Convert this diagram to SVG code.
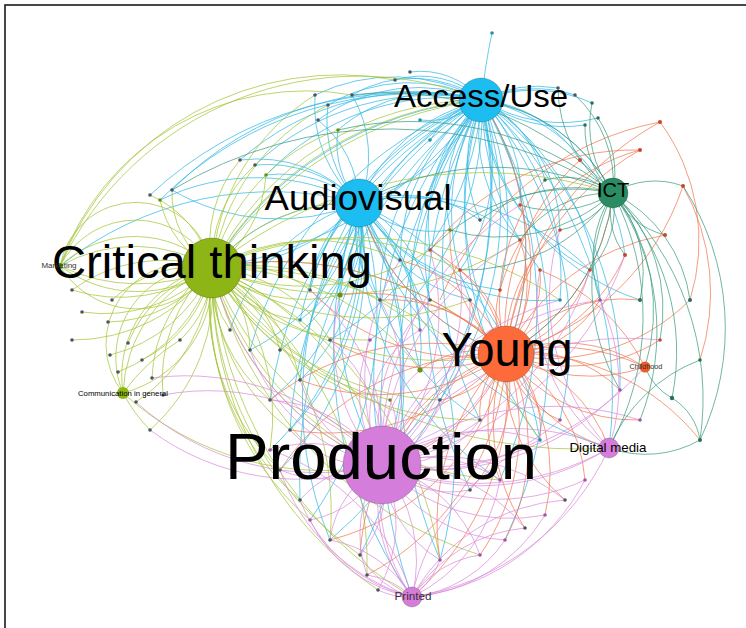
<svg xmlns="http://www.w3.org/2000/svg" width="746" height="628" viewBox="0 0 746 628">
<style>
#edges path{fill:none;stroke-width:1;stroke-opacity:0.72}
.c path{stroke:#2FB9E6}
.g path{stroke:#A3C536}
.o path{stroke:#F27650}
.p path{stroke:#D98ADA}
.t path{stroke:#3A9B7E}
.dot{stroke:none}
.dk{fill:#4a5560}.dg{fill:#6E8F12}.dr{fill:#C8462C}.dp{fill:#A056A8}.dc{fill:#1C90B8}.dt{fill:#2B6F5B}
.lbl{font-family:"Liberation Sans",Arial,sans-serif;fill:#000;text-anchor:middle}
.hub{stroke:#000;stroke-opacity:0.25;stroke-width:0.8}
</style>
<rect x="0" y="0" width="746" height="628" fill="#fff"/>
<rect x="5" y="5" width="760" height="640" fill="none" stroke="#1a1a1a" stroke-width="1.6"/>
<g id="edges">
<g class="c">
<path d="M492 33 Q484 70 482 100"/>
<path d="M482 100 A180 180 0 0 0 315 95"/>
<path d="M482 100 A160 160 0 0 0 328 105"/>
<path d="M482 100 A170 170 0 0 0 318 120"/>
<path d="M482 100 A150 150 0 0 0 338 130"/>
<path d="M482 100 A120 120 0 0 0 352 95"/>
<path d="M482 100 A90 90 0 0 0 395 80"/>
<path d="M482 100 A80 80 0 0 0 410 72"/>
<path d="M482 100 A120 120 0 0 1 558 88"/>
<path d="M482 100 A130 130 0 0 1 575 95"/>
<path d="M482 100 A140 140 0 0 1 592 103"/>
<path d="M482 100 A150 150 0 0 0 598 118"/>
<path d="M482 100 A140 140 0 0 0 585 125"/>
<path d="M482 100 A180 180 0 0 0 359 203"/>
<path d="M482 100 A200 200 0 0 1 359 203"/>
<path d="M482 100 A350 350 0 0 0 212 268"/>
<path d="M482 100 A400 400 0 0 1 212 268"/>
<path d="M482 100 A130 130 0 0 1 520 205"/>
<path d="M482 100 A140 140 0 0 0 480 220"/>
<path d="M482 100 A150 150 0 0 0 450 230"/>
<path d="M482 100 A170 170 0 0 0 430 250"/>
<path d="M482 100 A200 200 0 0 0 400 260"/>
<path d="M482 100 A190 190 0 0 1 460 270"/>
<path d="M482 100 A220 220 0 0 0 470 300"/>
<path d="M482 100 A230 230 0 0 0 430 300"/>
<path d="M482 100 A250 250 0 0 0 380 300"/>
<path d="M482 100 A260 260 0 0 0 340 295"/>
<path d="M482 100 A280 280 0 0 0 310 290"/>
<path d="M482 100 A310 310 0 0 0 300 320"/>
<path d="M482 100 A310 310 0 0 1 330 340"/>
<path d="M482 100 A290 290 0 0 1 370 340"/>
<path d="M482 100 A280 280 0 0 1 506 354"/>
<path d="M482 100 A300 300 0 0 0 506 354"/>
<path d="M482 100 A400 400 0 0 1 382 465"/>
<path d="M482 100 A420 420 0 0 0 382 465"/>
<path d="M482 100 A300 300 0 0 0 420 370"/>
<path d="M482 100 A330 330 0 0 1 440 400"/>
<path d="M482 100 A180 180 0 0 1 613 193"/>
<path d="M482 100 A400 400 0 0 1 609 448"/>
<path d="M482 100 A360 360 0 0 1 560 420"/>
<path d="M482 100 A380 380 0 0 0 540 440"/>
<path d="M482 100 A350 350 0 0 0 480 420"/>
<path d="M482 100 A260 260 0 0 1 600 300"/>
<path d="M482 100 A240 240 0 0 1 560 300"/>
<path d="M482 100 A350 350 0 0 1 620 390"/>
<path d="M482 100 A360 360 0 0 0 300 380"/>
<path d="M482 100 A400 400 0 0 0 270 400"/>
<path d="M482 100 A370 370 0 0 0 250 350"/>
<path d="M482 100 A360 360 0 0 0 160 200"/>
<path d="M482 100 A380 380 0 0 0 150 195"/>
<path d="M482 100 A330 330 0 0 0 172 190"/>
<path d="M482 100 A270 270 0 0 0 240 160"/>
<path d="M482 100 A260 260 0 0 0 255 165"/>
<path d="M482 100 A250 250 0 0 0 266 175"/>
<path d="M482 100 A80 80 0 0 1 420 120"/>
<path d="M482 100 A90 90 0 0 0 430 140"/>
<path d="M482 100 A120 120 0 0 1 545 180"/>
<path d="M482 100 A130 130 0 0 1 580 160"/>
<path d="M482 100 A480 480 0 0 0 300 500"/>
<path d="M482 100 A540 540 0 0 0 412 597"/>
<path d="M482 100 A420 420 0 0 1 500 480"/>
<path d="M482 100 A420 420 0 0 0 470 490"/>
<path d="M482 100 A420 420 0 0 0 290 430"/>
<path d="M482 100 A160 160 0 0 0 520 240"/>
<path d="M482 100 A150 150 0 0 1 560 230"/>
<path d="M482 100 A200 200 0 0 0 590 270"/>
<path d="M482 100 A180 180 0 0 1 625 255"/>
<path d="M482 100 A230 230 0 0 0 640 300"/>
<path d="M482 100 A460 460 0 0 1 330 540"/>
<path d="M482 100 A470 470 0 0 1 505 540"/>
<path d="M482 100 A480 480 0 0 0 440 560"/>
<path d="M482 100 A300 300 0 0 1 500 290"/>
<path d="M482 100 A280 280 0 0 0 540 270"/>
<path d="M359 203 A140 140 0 0 0 240 160"/>
<path d="M359 203 A130 130 0 0 0 255 165"/>
<path d="M359 203 A120 120 0 0 0 266 175"/>
<path d="M359 203 A130 130 0 0 1 315 95"/>
<path d="M359 203 A120 120 0 0 1 328 105"/>
<path d="M359 203 A110 110 0 0 0 318 120"/>
<path d="M359 203 A90 90 0 0 1 338 130"/>
<path d="M359 203 A120 120 0 0 0 352 95"/>
<path d="M359 203 A180 180 0 0 0 212 268"/>
<path d="M359 203 A200 200 0 0 1 212 268"/>
<path d="M359 203 A110 110 0 0 1 340 295"/>
<path d="M359 203 A120 120 0 0 0 310 290"/>
<path d="M359 203 A140 140 0 0 1 300 320"/>
<path d="M359 203 A110 110 0 0 0 380 300"/>
<path d="M359 203 A140 140 0 0 1 430 300"/>
<path d="M359 203 A230 230 0 0 0 506 354"/>
<path d="M359 203 A290 290 0 0 1 382 465"/>
<path d="M359 203 A300 300 0 0 0 382 465"/>
<path d="M359 203 A200 200 0 0 1 420 370"/>
<path d="M359 203 A200 200 0 0 1 300 380"/>
<path d="M359 203 A240 240 0 0 1 270 400"/>
<path d="M359 203 A200 200 0 0 1 250 350"/>
<path d="M359 203 A200 200 0 0 0 230 330"/>
<path d="M359 203 A190 190 0 0 1 280 350"/>
<path d="M359 203 A260 260 0 0 1 290 430"/>
<path d="M359 203 A350 350 0 0 1 310 520"/>
<path d="M359 203 A370 370 0 0 0 330 540"/>
<path d="M359 203 A430 430 0 0 0 412 597"/>
<path d="M359 203 A220 220 0 0 0 160 200"/>
<path d="M359 203 A210 210 0 0 1 172 190"/>
<path d="M359 203 A160 160 0 0 0 470 300"/>
<path d="M359 203 A90 90 0 0 0 400 260"/>
<path d="M359 203 A110 110 0 0 0 450 230"/>
<path d="M359 203 A130 130 0 0 1 480 220"/>
<path d="M359 203 A290 290 0 0 1 270 450"/>
<path d="M359 203 A300 300 0 0 1 280 470"/>
<path d="M359 203 A380 380 0 0 0 609 448"/>
<path d="M359 203 A340 340 0 0 0 60 266"/>
<path d="M359 203 A180 180 0 0 1 520 240"/>
<path d="M359 203 A220 220 0 0 0 560 300"/>
<path d="M359 203 A250 250 0 0 1 590 270"/>
<path d="M359 203 A320 320 0 0 1 540 440"/>
<path d="M359 203 A260 260 0 0 0 480 420"/>
<path d="M359 203 A310 310 0 0 0 500 480"/>
<path d="M359 203 A380 380 0 0 1 440 560"/>
<path d="M359 203 A370 370 0 0 1 360 555"/>
<path d="M359 203 A200 200 0 0 0 500 290"/>
<path d="M359 203 A170 170 0 0 1 420 330"/>
</g>
<g class="g">
<path d="M212 268 A77 77 0 0 0 60 266"/>
<path d="M212 268 A85 85 0 0 0 60 266"/>
<path d="M212 268 A110 110 0 0 0 60 266"/>
<path d="M212 268 A150 150 0 0 0 60 266"/>
<path d="M212 268 A90 90 0 0 1 60 266"/>
<path d="M212 268 A130 130 0 0 1 60 266"/>
<path d="M212 268 A180 180 0 0 1 60 266"/>
<path d="M212 268 A155 155 0 0 0 72 290"/>
<path d="M212 268 A160 160 0 0 1 72 290"/>
<path d="M212 268 A150 150 0 0 1 82 312"/>
<path d="M212 268 A130 130 0 0 1 108 322"/>
<path d="M212 268 A120 120 0 0 0 112 300"/>
<path d="M212 268 A170 170 0 0 1 72 340"/>
<path d="M212 268 A150 150 0 0 1 110 355"/>
<path d="M212 268 A155 155 0 0 1 118 372"/>
<path d="M212 268 A130 130 0 0 0 128 343"/>
<path d="M212 268 A130 130 0 0 1 142 360"/>
<path d="M212 268 A140 140 0 0 0 152 378"/>
<path d="M212 268 A170 170 0 0 1 136 402"/>
<path d="M212 268 A190 190 0 0 1 150 430"/>
<path d="M212 268 A150 150 0 0 0 163 395"/>
<path d="M212 268 A100 100 0 0 1 180 340"/>
<path d="M212 268 A80 80 0 0 0 123 393"/>
<path d="M212 268 A90 90 0 0 0 123 393"/>
<path d="M212 268 A110 110 0 0 0 123 393"/>
<path d="M212 268 A140 140 0 0 0 123 393"/>
<path d="M212 268 A120 120 0 0 1 123 393"/>
<path d="M212 268 A100 100 0 0 1 160 200"/>
<path d="M212 268 A110 110 0 0 0 150 195"/>
<path d="M212 268 A90 90 0 0 1 172 190"/>
<path d="M212 268 A130 130 0 0 1 240 160"/>
<path d="M212 268 A130 130 0 0 1 255 165"/>
<path d="M212 268 A120 120 0 0 0 266 175"/>
<path d="M212 268 A180 180 0 0 1 359 203"/>
<path d="M212 268 A340 340 0 0 1 482 100"/>
<path d="M212 268 A300 300 0 0 1 482 100"/>
<path d="M212 268 A380 380 0 0 1 482 100"/>
<path d="M212 268 A220 220 0 0 1 315 95"/>
<path d="M212 268 A220 220 0 0 1 328 105"/>
<path d="M212 268 A200 200 0 0 1 338 130"/>
<path d="M212 268 A430 430 0 0 1 613 193"/>
<path d="M212 268 A330 330 0 0 1 506 354"/>
<path d="M212 268 A330 330 0 0 0 506 354"/>
<path d="M212 268 A280 280 0 0 0 382 465"/>
<path d="M212 268 A280 280 0 0 1 382 465"/>
<path d="M212 268 A320 320 0 0 0 382 465"/>
<path d="M212 268 A150 150 0 0 0 340 295"/>
<path d="M212 268 A120 120 0 0 1 310 290"/>
<path d="M212 268 A120 120 0 0 0 300 320"/>
<path d="M212 268 A150 150 0 0 1 330 340"/>
<path d="M212 268 A190 190 0 0 0 370 340"/>
<path d="M212 268 A250 250 0 0 1 420 370"/>
<path d="M212 268 A280 280 0 0 0 440 400"/>
<path d="M212 268 A160 160 0 0 1 300 380"/>
<path d="M212 268 A160 160 0 0 0 270 400"/>
<path d="M212 268 A110 110 0 0 1 250 350"/>
<path d="M212 268 A100 100 0 0 0 230 330"/>
<path d="M212 268 A120 120 0 0 1 280 350"/>
<path d="M212 268 A200 200 0 0 0 290 430"/>
<path d="M212 268 A230 230 0 0 0 280 470"/>
<path d="M212 268 A210 210 0 0 1 270 450"/>
<path d="M212 268 A260 260 0 0 0 300 500"/>
<path d="M212 268 A290 290 0 0 0 310 520"/>
<path d="M212 268 A310 310 0 0 1 330 540"/>
<path d="M212 268 A410 410 0 0 0 412 597"/>
<path d="M212 268 A340 340 0 0 0 360 555"/>
<path d="M212 268 A460 460 0 0 0 609 448"/>
<path d="M212 268 A200 200 0 0 1 400 260"/>
<path d="M212 268 A240 240 0 0 0 430 250"/>
<path d="M212 268 A270 270 0 0 1 460 270"/>
<path d="M212 268 A280 280 0 0 0 470 300"/>
<path d="M212 268 A330 330 0 0 0 520 240"/>
<path d="M212 268 A360 360 0 0 1 560 300"/>
<path d="M212 268 A310 310 0 0 0 480 420"/>
<path d="M212 268 A360 360 0 0 1 540 440"/>
<path d="M212 268 A330 330 0 0 0 500 480"/>
<path d="M212 268 A380 380 0 0 1 440 560"/>
<path d="M212 268 A400 400 0 0 0 480 555"/>
<path d="M212 268 A360 360 0 0 1 367 575"/>
<path d="M212 268 A380 380 0 0 0 378 590"/>
<path d="M212 268 A260 260 0 0 1 420 330"/>
<path d="M212 268 A280 280 0 0 0 390 400"/>
<path d="M60 266 A330 330 0 0 1 482 100"/>
<path d="M60 266 A300 300 0 0 1 395 80"/>
<path d="M60 266 A260 260 0 0 1 352 95"/>
<path d="M123 393 A200 200 0 0 1 180 340"/>
<path d="M123 393 A160 160 0 0 0 150 430"/>
<path d="M123 393 A300 300 0 0 0 382 465"/>
</g>
<g class="o">
<path d="M506 354 A300 300 0 0 1 660 122"/>
<path d="M506 354 A270 270 0 0 1 640 150"/>
<path d="M506 354 A260 260 0 0 0 683 186"/>
<path d="M506 354 A220 220 0 0 1 665 235"/>
<path d="M506 354 A170 170 0 0 0 625 255"/>
<path d="M506 354 A230 230 0 0 1 580 160"/>
<path d="M506 354 A170 170 0 0 0 520 205"/>
<path d="M506 354 A190 190 0 0 1 545 180"/>
<path d="M506 354 A130 130 0 0 0 520 240"/>
<path d="M506 354 A150 150 0 0 1 560 230"/>
<path d="M506 354 A130 130 0 0 0 590 270"/>
<path d="M506 354 A170 170 0 0 0 660 340"/>
<path d="M506 354 A150 150 0 0 1 645 367"/>
<path d="M506 354 A170 170 0 0 0 645 367"/>
<path d="M506 354 A200 200 0 0 1 645 367"/>
<path d="M506 354 A210 210 0 0 0 613 193"/>
<path d="M506 354 A280 280 0 0 0 482 100"/>
<path d="M506 354 A230 230 0 0 1 359 203"/>
<path d="M506 354 A180 180 0 0 1 382 465"/>
<path d="M506 354 A200 200 0 0 0 382 465"/>
<path d="M506 354 A160 160 0 0 0 609 448"/>
<path d="M506 354 A150 150 0 0 1 609 448"/>
<path d="M506 354 A200 200 0 0 1 505 540"/>
<path d="M506 354 A190 190 0 0 0 525 528"/>
<path d="M506 354 A180 180 0 0 1 545 515"/>
<path d="M506 354 A170 170 0 0 0 565 500"/>
<path d="M506 354 A160 160 0 0 1 585 480"/>
<path d="M506 354 A90 90 0 0 0 560 420"/>
<path d="M506 354 A100 100 0 0 1 540 440"/>
<path d="M506 354 A140 140 0 0 0 500 480"/>
<path d="M506 354 A150 150 0 0 1 470 490"/>
<path d="M506 354 A110 110 0 0 0 460 270"/>
<path d="M506 354 A90 90 0 0 1 470 300"/>
<path d="M506 354 A140 140 0 0 0 430 250"/>
<path d="M506 354 A150 150 0 0 1 450 230"/>
<path d="M506 354 A160 160 0 0 0 400 260"/>
<path d="M506 354 A330 330 0 0 0 212 268"/>
<path d="M506 354 A280 280 0 0 1 412 597"/>
<path d="M506 354 A240 240 0 0 0 440 560"/>
<path d="M506 354 A220 220 0 0 1 480 555"/>
<path d="M506 354 A130 130 0 0 1 620 390"/>
<path d="M506 354 A160 160 0 0 0 640 420"/>
<path d="M506 354 A230 230 0 0 1 700 440"/>
<path d="M506 354 A200 200 0 0 0 690 300"/>
<path d="M506 354 A150 150 0 0 1 640 300"/>
<path d="M506 354 A110 110 0 0 0 600 300"/>
<path d="M506 354 A200 200 0 0 1 330 340"/>
<path d="M506 354 A150 150 0 0 0 380 300"/>
<path d="M506 354 A220 220 0 0 1 300 380"/>
<path d="M506 354 A190 190 0 0 0 340 295"/>
<path d="M506 354 A220 220 0 0 1 310 290"/>
<path d="M506 354 A260 260 0 0 0 270 400"/>
<path d="M506 354 A240 240 0 0 1 290 430"/>
<path d="M506 354 A260 260 0 0 0 280 470"/>
<path d="M506 354 A240 240 0 0 1 330 540"/>
<path d="M506 354 A230 230 0 0 0 360 555"/>
<path d="M506 354 A260 260 0 0 1 367 575"/>
<path d="M506 354 A100 100 0 0 0 420 370"/>
<path d="M506 354 A90 90 0 0 1 440 400"/>
<path d="M506 354 A80 80 0 0 0 480 420"/>
<path d="M506 354 A80 80 0 0 1 500 290"/>
<path d="M506 354 A100 100 0 0 0 540 270"/>
<path d="M660 122 A200 200 0 0 1 690 300"/>
<path d="M683 186 A220 220 0 0 1 700 360"/>
<path d="M640 150 A260 260 0 0 0 430 250"/>
<path d="M660 122 A300 300 0 0 0 440 300"/>
<path d="M640 150 A200 200 0 0 0 500 290"/>
<path d="M645 367 A200 200 0 0 0 540 270"/>
</g>
<g class="p">
<path d="M382 465 A120 120 0 0 1 280 470"/>
<path d="M382 465 A130 130 0 0 0 270 450"/>
<path d="M382 465 A110 110 0 0 1 290 430"/>
<path d="M382 465 A100 100 0 0 0 300 500"/>
<path d="M382 465 A100 100 0 0 1 310 520"/>
<path d="M382 465 A100 100 0 0 0 330 540"/>
<path d="M382 465 A100 100 0 0 1 360 555"/>
<path d="M382 465 A120 120 0 0 0 367 575"/>
<path d="M382 465 A130 130 0 0 1 378 590"/>
<path d="M382 465 A120 120 0 0 0 440 560"/>
<path d="M382 465 A140 140 0 0 1 480 555"/>
<path d="M382 465 A150 150 0 0 0 505 540"/>
<path d="M382 465 A170 170 0 0 1 525 528"/>
<path d="M382 465 A180 180 0 0 0 545 515"/>
<path d="M382 465 A200 200 0 0 1 565 500"/>
<path d="M382 465 A210 210 0 0 0 585 480"/>
<path d="M382 465 A150 150 0 0 0 412 597"/>
<path d="M382 465 A150 150 0 0 1 412 597"/>
<path d="M382 465 A180 180 0 0 0 412 597"/>
<path d="M382 465 A250 250 0 0 1 609 448"/>
<path d="M382 465 A260 260 0 0 0 609 448"/>
<path d="M382 465 A240 240 0 0 0 609 448"/>
<path d="M382 465 A280 280 0 0 1 640 420"/>
<path d="M382 465 A260 260 0 0 0 620 390"/>
<path d="M382 465 A300 300 0 0 0 645 367"/>
<path d="M382 465 A280 280 0 0 1 600 300"/>
<path d="M382 465 A200 200 0 0 0 560 420"/>
<path d="M382 465 A170 170 0 0 1 540 440"/>
<path d="M382 465 A110 110 0 0 0 480 420"/>
<path d="M382 465 A130 130 0 0 1 500 480"/>
<path d="M382 465 A100 100 0 0 0 470 490"/>
<path d="M382 465 A110 110 0 0 1 420 370"/>
<path d="M382 465 A100 100 0 0 0 440 400"/>
<path d="M382 465 A130 130 0 0 1 370 340"/>
<path d="M382 465 A150 150 0 0 0 330 340"/>
<path d="M382 465 A130 130 0 0 1 300 380"/>
<path d="M382 465 A140 140 0 0 0 270 400"/>
<path d="M382 465 A180 180 0 0 1 250 350"/>
<path d="M382 465 A280 280 0 0 1 212 268"/>
<path d="M382 465 A260 260 0 0 0 152 378"/>
<path d="M382 465 A250 250 0 0 1 150 430"/>
<path d="M382 465 A240 240 0 0 0 163 395"/>
<path d="M382 465 A270 270 0 0 1 136 402"/>
<path d="M382 465 A220 220 0 0 0 460 270"/>
<path d="M382 465 A260 260 0 0 1 560 300"/>
<path d="M382 465 A290 290 0 0 0 590 270"/>
<path d="M382 465 A200 200 0 0 0 506 354"/>
<path d="M382 465 A220 220 0 0 1 400 260"/>
<path d="M382 465 A230 230 0 0 0 430 250"/>
<path d="M382 465 A180 180 0 0 1 430 300"/>
<path d="M382 465 A190 190 0 0 0 470 300"/>
<path d="M382 465 A260 260 0 0 1 520 240"/>
<path d="M382 465 A170 170 0 0 0 380 300"/>
<path d="M382 465 A180 180 0 0 1 340 295"/>
<path d="M382 465 A200 200 0 0 0 310 290"/>
<path d="M382 465 A290 290 0 0 1 520 205"/>
<path d="M382 465 A320 320 0 0 0 625 255"/>
<path d="M382 465 A300 300 0 0 1 660 340"/>
<path d="M382 465 A100 100 0 0 1 420 330"/>
<path d="M382 465 A60 60 0 0 0 390 400"/>
<path d="M412 597 A160 160 0 0 1 300 500"/>
<path d="M412 597 A140 140 0 0 1 310 520"/>
<path d="M412 597 A120 120 0 0 0 330 540"/>
<path d="M412 597 A90 90 0 0 1 360 555"/>
<path d="M412 597 A80 80 0 0 0 367 575"/>
<path d="M412 597 A70 70 0 0 1 378 590"/>
<path d="M412 597 A200 200 0 0 1 280 470"/>
<path d="M412 597 A220 220 0 0 0 270 450"/>
<path d="M412 597 A130 130 0 0 0 505 540"/>
<path d="M412 597 A150 150 0 0 1 525 528"/>
<path d="M412 597 A170 170 0 0 0 545 515"/>
<path d="M412 597 A190 190 0 0 1 565 500"/>
<path d="M412 597 A220 220 0 0 0 585 480"/>
<path d="M412 597 A260 260 0 0 0 609 448"/>
<path d="M412 597 A220 220 0 0 1 540 440"/>
<path d="M412 597 A160 160 0 0 0 500 480"/>
<path d="M412 597 A80 80 0 0 0 440 560"/>
<path d="M412 597 A100 100 0 0 1 480 555"/>
<path d="M609 448 A200 200 0 0 0 600 300"/>
<path d="M609 448 A220 220 0 0 1 560 230"/>
<path d="M609 448 A180 180 0 0 1 540 270"/>
</g>
<g class="t">
<path d="M613 193 A130 130 0 0 1 558 88"/>
<path d="M613 193 A120 120 0 0 0 575 95"/>
<path d="M613 193 A110 110 0 0 1 592 103"/>
<path d="M613 193 A100 100 0 0 0 598 118"/>
<path d="M613 193 A90 90 0 0 1 585 125"/>
<path d="M613 193 A80 80 0 0 1 683 186"/>
<path d="M613 193 A80 80 0 0 0 665 235"/>
<path d="M613 193 A120 120 0 0 1 640 300"/>
<path d="M613 193 A140 140 0 0 1 690 300"/>
<path d="M613 193 A230 230 0 0 1 672 398"/>
<path d="M613 193 A280 280 0 0 1 700 440"/>
<path d="M613 193 A270 270 0 0 1 609 448"/>
<path d="M613 193 A80 80 0 0 0 545 180"/>
<path d="M613 193 A110 110 0 0 1 520 205"/>
<path d="M613 193 A80 80 0 0 1 560 230"/>
<path d="M613 193 A210 210 0 0 1 506 354"/>
<path d="M613 193 A180 180 0 0 0 482 100"/>
<path d="M613 193 A280 280 0 0 0 359 203"/>
<path d="M613 193 A210 210 0 0 0 620 390"/>
<path d="M613 193 A240 240 0 0 1 640 420"/>
<path d="M613 193 A190 190 0 0 1 645 367"/>
<path d="M613 193 A150 150 0 0 0 480 220"/>
<path d="M613 193 A170 170 0 0 1 450 230"/>
<path d="M613 193 A120 120 0 0 0 600 300"/>
<path d="M613 193 A320 320 0 0 0 338 130"/>
<path d="M613 193 A300 300 0 0 0 352 95"/>
<path d="M613 193 A420 420 0 0 0 172 190"/>
<path d="M613 193 A110 110 0 0 0 520 240"/>
<path d="M613 193 A180 180 0 0 1 460 270"/>
<path d="M613 193 A200 200 0 0 0 430 250"/>
<path d="M613 193 A90 90 0 0 1 590 270"/>
<path d="M613 193 A70 70 0 0 0 625 255"/>
<path d="M613 193 A160 160 0 0 1 660 340"/>
<path d="M645 367 A60 60 0 0 0 672 398"/>
<path d="M609 448 A110 110 0 0 0 700 440"/>
<path d="M672 398 A60 60 0 0 1 700 440"/>
<path d="M683 186 A260 260 0 0 1 700 440"/>
<path d="M609 448 A160 160 0 0 1 700 360"/>
</g>
</g>
<g id="dots">
<circle class="dot dc" cx="492" cy="33" r="1.8"/>
<circle class="dot dk" cx="315" cy="95" r="1.8"/>
<circle class="dot dk" cx="328" cy="105" r="1.8"/>
<circle class="dot dk" cx="318" cy="120" r="1.8"/>
<circle class="dot dg" cx="338" cy="130" r="1.8"/>
<circle class="dot dk" cx="352" cy="95" r="1.8"/>
<circle class="dot dk" cx="395" cy="80" r="1.8"/>
<circle class="dot dk" cx="410" cy="72" r="1.8"/>
<circle class="dot dk" cx="558" cy="88" r="1.8"/>
<circle class="dot dk" cx="575" cy="95" r="1.8"/>
<circle class="dot dt" cx="592" cy="103" r="1.8"/>
<circle class="dot dt" cx="598" cy="118" r="1.8"/>
<circle class="dot dt" cx="585" cy="125" r="1.8"/>
<circle class="dot dc" cx="420" cy="120" r="1.8"/>
<circle class="dot dc" cx="430" cy="140" r="1.8"/>
<circle class="dot dr" cx="640" cy="150" r="2"/>
<circle class="dot dr" cx="660" cy="122" r="2"/>
<circle class="dot dr" cx="683" cy="186" r="2"/>
<circle class="dot dr" cx="665" cy="235" r="2"/>
<circle class="dot dt" cx="640" cy="300" r="2"/>
<circle class="dot dt" cx="690" cy="300" r="2"/>
<circle class="dot dt" cx="672" cy="398" r="2.2"/>
<circle class="dot dt" cx="700" cy="440" r="2"/>
<circle class="dot dt" cx="700" cy="360" r="1.8"/>
<circle class="dot dr" cx="625" cy="255" r="2"/>
<circle class="dot dr" cx="580" cy="160" r="2"/>
<circle class="dot dt" cx="545" cy="180" r="1.8"/>
<circle class="dot dr" cx="520" cy="205" r="1.8"/>
<circle class="dot dk" cx="480" cy="220" r="1.8"/>
<circle class="dot dg" cx="450" cy="230" r="1.8"/>
<circle class="dot dr" cx="430" cy="250" r="1.8"/>
<circle class="dot dk" cx="400" cy="260" r="1.8"/>
<circle class="dot dr" cx="460" cy="270" r="1.8"/>
<circle class="dot dr" cx="520" cy="240" r="1.8"/>
<circle class="dot dr" cx="560" cy="230" r="1.8"/>
<circle class="dot dr" cx="590" cy="270" r="1.8"/>
<circle class="dot dp" cx="600" cy="300" r="1.8"/>
<circle class="dot dc" cx="560" cy="300" r="1.8"/>
<circle class="dot dk" cx="470" cy="300" r="1.8"/>
<circle class="dot dk" cx="430" cy="300" r="1.8"/>
<circle class="dot dk" cx="380" cy="300" r="1.8"/>
<circle class="dot dg" cx="340" cy="295" r="2.6"/>
<circle class="dot dk" cx="310" cy="290" r="1.8"/>
<circle class="dot dc" cx="300" cy="320" r="1.8"/>
<circle class="dot dk" cx="330" cy="340" r="1.8"/>
<circle class="dot dp" cx="370" cy="340" r="1.8"/>
<circle class="dot dg" cx="420" cy="370" r="2.6"/>
<circle class="dot dk" cx="440" cy="400" r="1.8"/>
<circle class="dot dk" cx="300" cy="380" r="1.8"/>
<circle class="dot dk" cx="270" cy="400" r="1.8"/>
<circle class="dot dk" cx="250" cy="350" r="1.8"/>
<circle class="dot dk" cx="230" cy="330" r="1.8"/>
<circle class="dot dk" cx="280" cy="350" r="1.8"/>
<circle class="dot dr" cx="500" cy="290" r="1.8"/>
<circle class="dot dr" cx="540" cy="270" r="1.8"/>
<circle class="dot dp" cx="420" cy="330" r="1.8"/>
<circle class="dot dg" cx="390" cy="400" r="1.8"/>
<circle class="dot dg" cx="160" cy="200" r="1.8"/>
<circle class="dot dk" cx="150" cy="195" r="1.8"/>
<circle class="dot dk" cx="172" cy="190" r="1.8"/>
<circle class="dot dk" cx="240" cy="160" r="1.8"/>
<circle class="dot dk" cx="255" cy="165" r="1.8"/>
<circle class="dot dg" cx="266" cy="175" r="1.8"/>
<circle class="dot dg" cx="60" cy="266" r="3"/>
<circle class="dot dk" cx="72" cy="290" r="1.8"/>
<circle class="dot dk" cx="82" cy="312" r="1.8"/>
<circle class="dot dk" cx="108" cy="322" r="1.8"/>
<circle class="dot dk" cx="112" cy="300" r="1.8"/>
<circle class="dot dk" cx="72" cy="340" r="1.8"/>
<circle class="dot dk" cx="110" cy="355" r="1.8"/>
<circle class="dot dk" cx="118" cy="372" r="1.8"/>
<circle class="dot dk" cx="128" cy="343" r="1.8"/>
<circle class="dot dk" cx="142" cy="360" r="1.8"/>
<circle class="dot dk" cx="152" cy="378" r="1.8"/>
<circle class="dot dk" cx="136" cy="402" r="1.8"/>
<circle class="dot dk" cx="150" cy="430" r="1.8"/>
<circle class="dot dk" cx="163" cy="395" r="1.8"/>
<circle class="dot dk" cx="180" cy="340" r="1.8"/>
<circle class="dot dk" cx="280" cy="470" r="1.8"/>
<circle class="dot dp" cx="270" cy="450" r="1.8"/>
<circle class="dot dk" cx="290" cy="430" r="1.8"/>
<circle class="dot dk" cx="300" cy="500" r="1.8"/>
<circle class="dot dp" cx="310" cy="520" r="1.8"/>
<circle class="dot dk" cx="330" cy="540" r="1.8"/>
<circle class="dot dk" cx="360" cy="555" r="1.8"/>
<circle class="dot dk" cx="367" cy="575" r="1.8"/>
<circle class="dot dk" cx="378" cy="590" r="1.8"/>
<circle class="dot dp" cx="440" cy="560" r="1.8"/>
<circle class="dot dp" cx="480" cy="555" r="1.8"/>
<circle class="dot dp" cx="505" cy="540" r="1.8"/>
<circle class="dot dk" cx="525" cy="528" r="1.8"/>
<circle class="dot dp" cx="545" cy="515" r="1.8"/>
<circle class="dot dk" cx="565" cy="500" r="1.8"/>
<circle class="dot dp" cx="585" cy="480" r="1.8"/>
<circle class="dot dp" cx="560" cy="420" r="1.8"/>
<circle class="dot dc" cx="540" cy="440" r="1.8"/>
<circle class="dot dk" cx="480" cy="420" r="1.8"/>
<circle class="dot dp" cx="500" cy="480" r="1.8"/>
<circle class="dot dk" cx="470" cy="490" r="1.8"/>
<circle class="dot dp" cx="640" cy="420" r="1.8"/>
<circle class="dot dp" cx="620" cy="390" r="1.8"/>
<circle class="dot dr" cx="660" cy="340" r="1.8"/>
</g>
<g id="node-access-use"><circle class="hub" cx="481" cy="100" r="22" fill="#1CBDF0"/><text class="lbl" x="481" y="107" font-size="32" textLength="174" lengthAdjust="spacingAndGlyphs">Access/Use</text></g>
<g id="node-audiovisual"><circle class="hub" cx="359" cy="203" r="24" fill="#1CBDF0"/><text class="lbl" x="358" y="210" font-size="35" textLength="187" lengthAdjust="spacingAndGlyphs">Audiovisual</text></g>
<g id="node-critical-thinking"><circle class="hub" cx="212" cy="268" r="30" fill="#8DB515"/><text class="lbl" x="212" y="278" font-size="47" textLength="320" lengthAdjust="spacingAndGlyphs">Critical thinking</text></g>
<g id="node-ict"><circle class="hub" cx="613" cy="193" r="15" fill="#2A8C62"/><text class="lbl" x="613" y="197" font-size="20">ICT</text></g>
<g id="node-young"><circle class="hub" cx="506" cy="354" r="28" fill="#FD6B3A"/><text class="lbl" x="507" y="366" font-size="49" textLength="131" lengthAdjust="spacingAndGlyphs">Young</text></g>
<g id="node-production"><circle class="hub" cx="382" cy="465" r="39" fill="#D57DDA"/><text class="lbl" x="381" y="479" font-size="65" textLength="312" lengthAdjust="spacingAndGlyphs">Production</text></g>
<g id="node-digital-media"><circle class="hub" cx="609" cy="448" r="10" fill="#D57DDA"/><text class="lbl" x="608" y="452" font-size="13" textLength="77" lengthAdjust="spacingAndGlyphs">Digital media</text></g>
<g id="node-childhood"><circle cx="645" cy="367" r="5.5" fill="#F05A28"/><text class="lbl" x="646" y="369" font-size="7.3" style="fill:#333">Childhood</text></g>
<g id="node-printed"><circle class="hub" cx="412" cy="597" r="10" fill="#D57DDA"/><text class="lbl" x="413" y="600" font-size="11.7" style="fill:#3a2d3a">Printed</text></g>
<g id="node-communication"><circle cx="123" cy="393" r="6" fill="#8DB515"/><text class="lbl" x="123" y="396" font-size="7.7" textLength="90" lengthAdjust="spacingAndGlyphs">Communication in general</text></g>
<g id="node-marketing"><text class="lbl" x="59" y="268" font-size="8" style="fill:#333">Marketing</text></g>
</svg>
